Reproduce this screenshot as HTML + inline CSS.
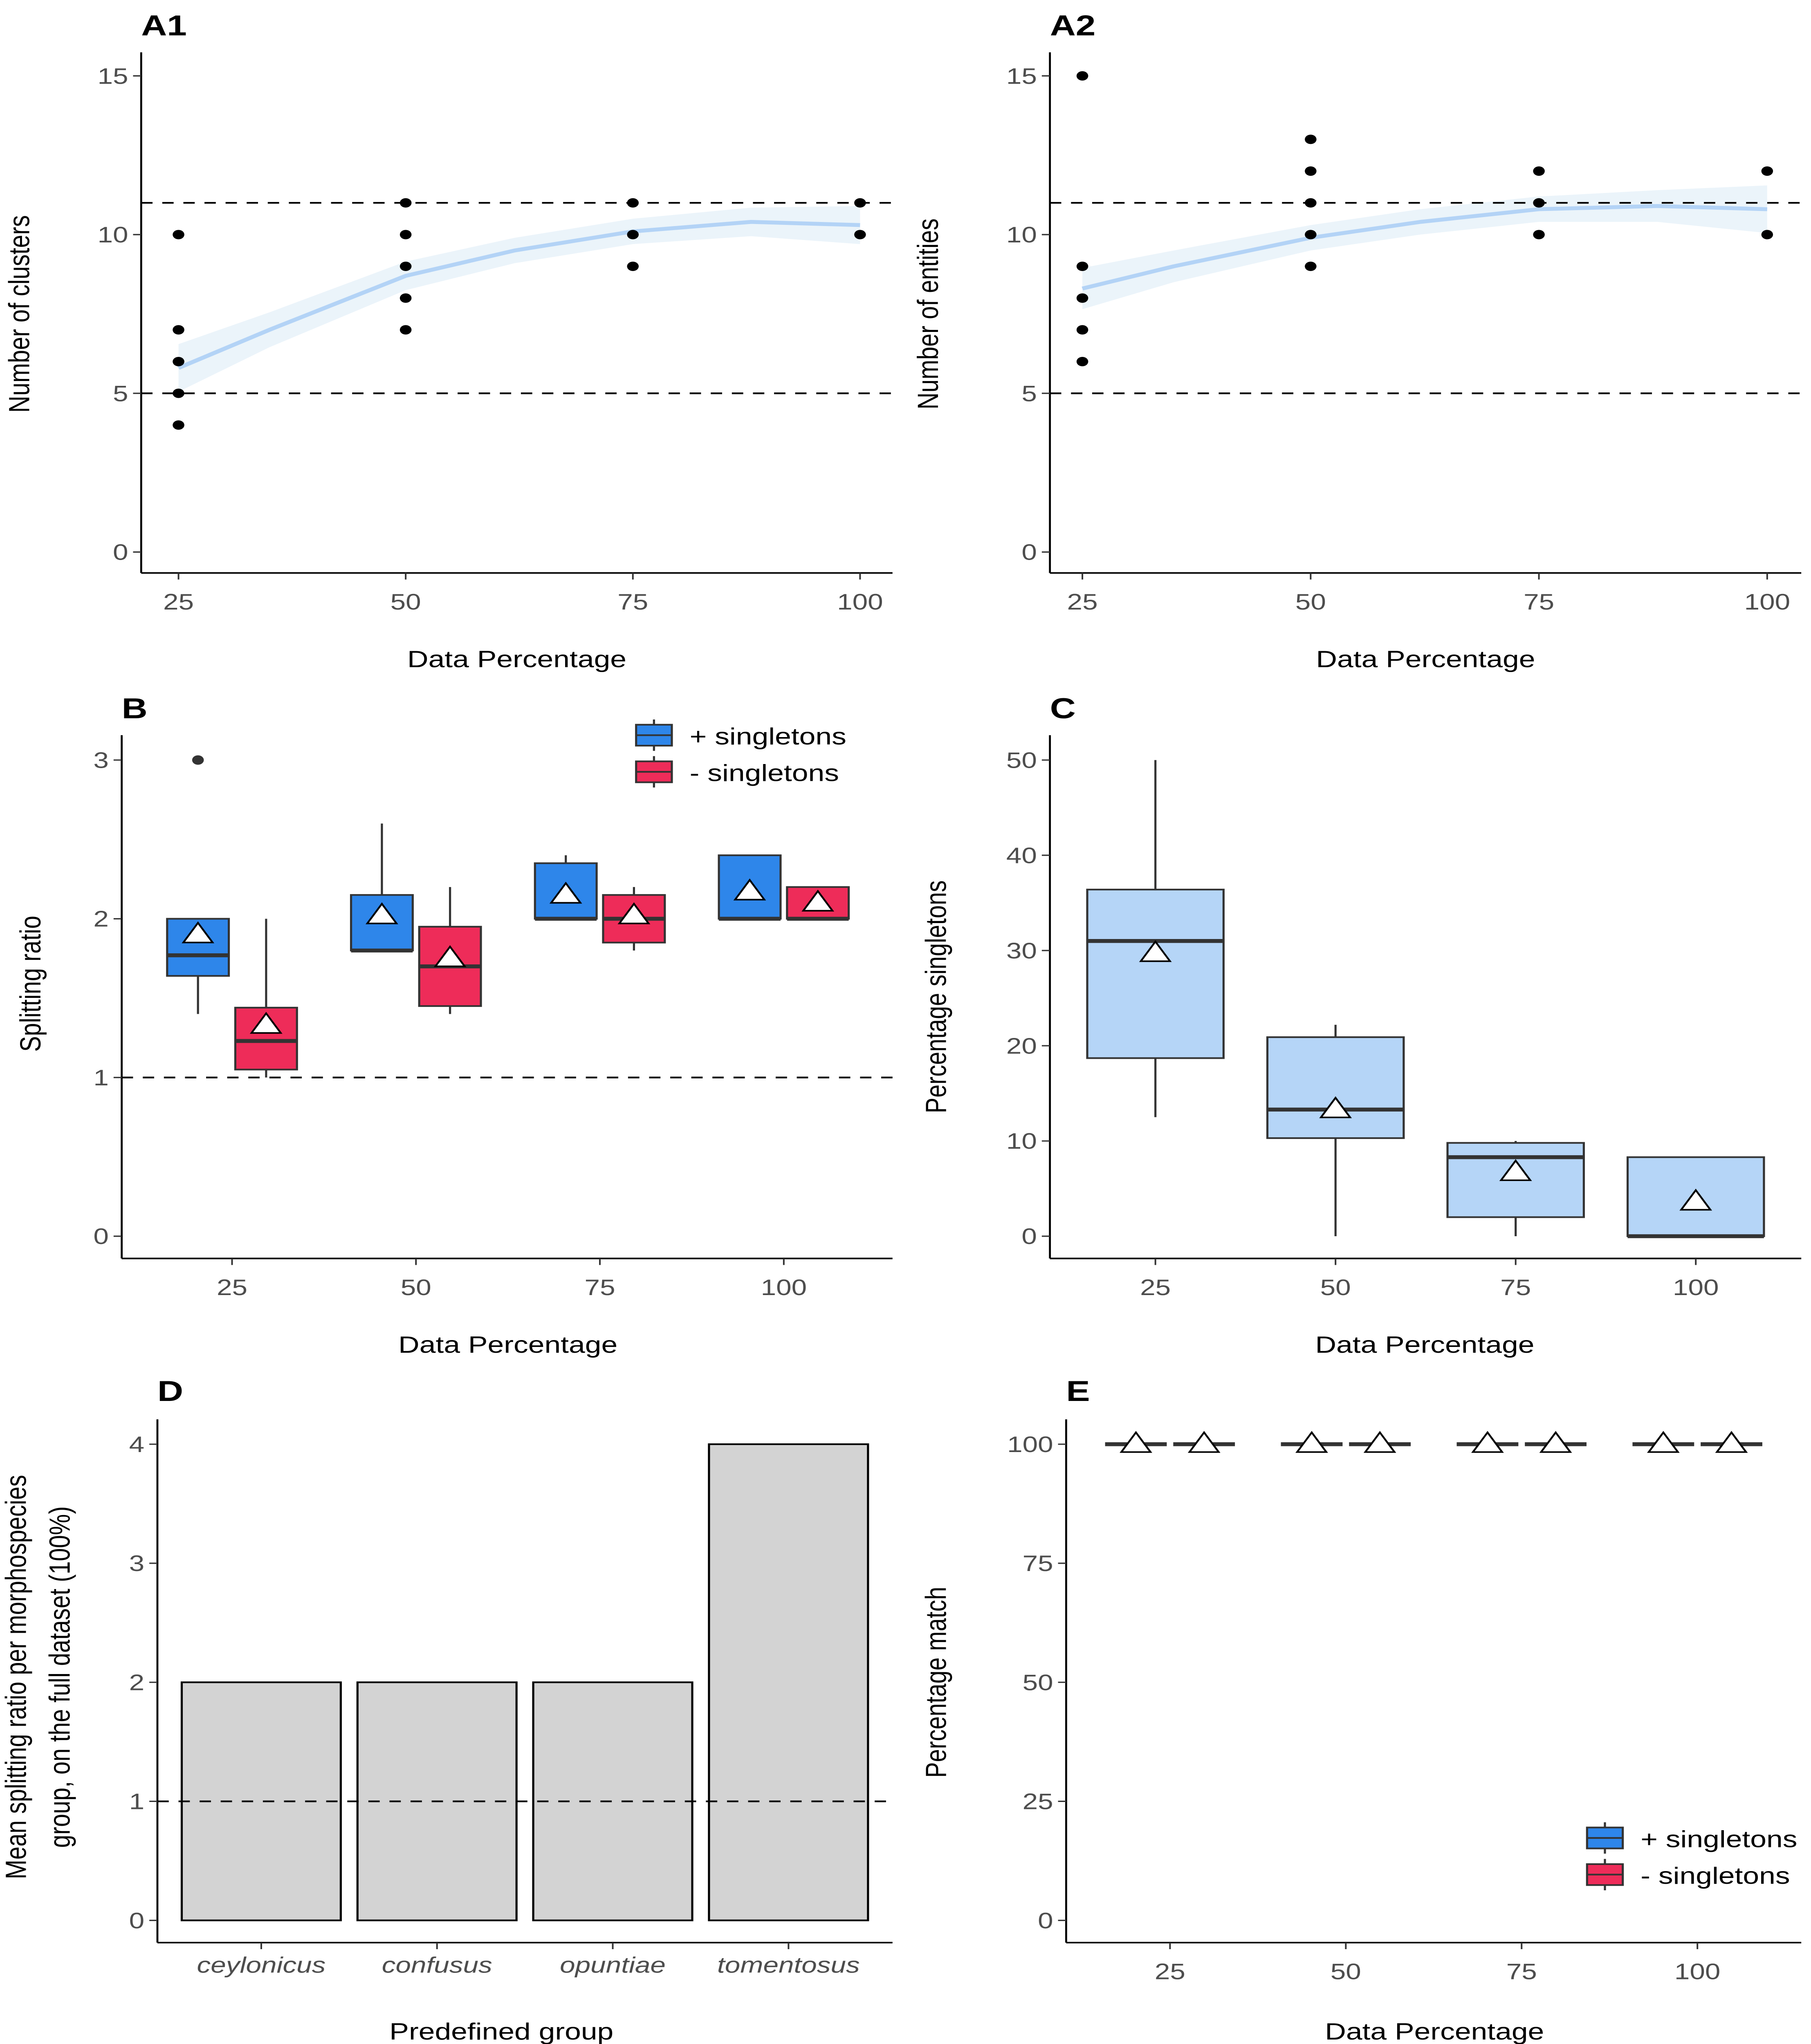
<!DOCTYPE html>
<html><head><meta charset="utf-8"><style>
html,body{margin:0;padding:0;background:#fff;width:100%;height:100%;overflow:hidden}
svg{display:block;position:fixed;left:0;top:0;width:100vw;height:100vh}
text{font-family:"Liberation Sans",sans-serif}
.tick{fill:#4d4d4d;font-size:17px}
.atitle{fill:#000;font-size:18px}
.ptitle{fill:#000;font-size:22px;font-weight:bold}
</style></head><body>
<svg id="s" viewBox="0 0 1116 1562.5" preserveAspectRatio="none" xmlns="http://www.w3.org/2000/svg"></svg>
<script>
// ---- data ----
const a1X = [25,25,25,25,25,50,50,50,50,50,75,75,75,100,100];
const a1Y = [10,7,6,5,4,11,10,9,8,7,11,10,9,11,10];
const a1FitX = [25,35,50,62,75,88,100];
const a1FitY = [5.8,7.0,8.7,9.5,10.1,10.4,10.3];
const a1FitSE = [0.75,0.55,0.45,0.4,0.4,0.45,0.6];
const a2X = [25,25,25,25,25,50,50,50,50,50,75,75,75,100,100];
const a2Y = [15,9,8,7,6,13,12,11,10,9,12,11,10,12,10];
const a2FitX = [25,35,50,62,75,88,100];
const a2FitY = [8.3,9.0,9.9,10.4,10.8,10.9,10.8];
const a2FitSE = [0.65,0.5,0.4,0.4,0.4,0.5,0.75];
const pctCats = [25,50,75,100];
const bPlusStats = [[1.4,1.64,1.77,2.0,2.0],[1.8,1.8,1.8,2.15,2.6],[2.0,2.0,2.0,2.35,2.4],[2.0,2.0,2.0,2.4,2.4]];
const bPlusMeans = [1.9,2.02,2.15,2.17];
const bMinusStats = [[1.0,1.05,1.23,1.44,2.0],[1.4,1.45,1.7,1.95,2.2],[1.8,1.85,2.0,2.15,2.2],[2.0,2.0,2.0,2.2,2.2]];
const bMinusMeans = [1.33,1.75,2.02,2.1];
const bOutliers = [[0,3]];
const cStats = [[12.5,18.7,31,36.4,50],[0,10.3,13.3,20.9,22.2],[0,2,8.3,9.8,10],[0,0,0,8.3,8.3]];
const cMeans = [29.7,13.3,6.7,3.6];
const dCats = ["ceylonicus","confusus","opuntiae","tomentosus"];
const dVals = [2,2,2,4];
const ePlus = [100,100,100,100];
const eMinus = [100,100,100,100];
const BLUE="#2e86ea", RED="#ee2c59";
// ---- helpers ----
const S=document.getElementById('s'), NS="http://www.w3.org/2000/svg";
function el(tag,at,name,parent){const e=document.createElementNS(NS,tag);for(const k in at)e.setAttribute(k,at[k]);


(parent||S).appendChild(e);return e;}
function txt(x,y,s,cls,name,extra){const t=el('text',Object.assign({x:x,y:y,class:cls},extra||{}),name);t.textContent=s;return t;}
function lin(d0,d1,r0,r1){return v=>r0+(v-d0)*(r1-r0)/(d1-d0);}
function axes(p){
 el('line',{x1:p.l,y1:p.t,x2:p.l,y2:p.b,stroke:'#000','stroke-width':1.2},'y-axis-line');
 el('line',{x1:p.l,y1:p.b,x2:p.r,y2:p.b,stroke:'#000','stroke-width':1.2},'x-axis-line');
}
function yTicks(p,ys,vals){vals.forEach(v=>{const y=ys(v);
 el('line',{x1:p.l-5,y1:y,x2:p.l,y2:y,stroke:'#333'},'y-tick');
 txt(p.l-8,y+6,String(v),'tick','y-tick-label',{'text-anchor':'end'});});}
function xTicks(p,xs,vals,labels,italic){vals.forEach((v,i)=>{const x=xs(v);
 el('line',{x1:x,y1:p.b,x2:x,y2:p.b+5,stroke:'#333'},'x-tick');
 const t=txt(x,p.b+28,labels?labels[i]:String(v),'tick','x-tick-label',{'text-anchor':'middle'});
 if(italic)t.setAttribute('font-style','italic');});}
function hdash(p,y){el('line',{x1:p.l,y1:y,x2:p.r,y2:y,stroke:'#000','stroke-width':1.3,'stroke-dasharray':'7,6'},'reference-line');}
function ytitle(x,y,s){txt(x,y,s,'atitle','y-axis-title',{'text-anchor':'middle',transform:`rotate(-90 ${x} ${y})`});}
function tri(x,y,name){el('polygon',{points:`${x},${y-9} ${x-9},${y+6} ${x+9},${y+6}`,fill:'#fff',stroke:'#000','stroke-width':1.2},name||'mean-marker');}
function box(x,w,st,ys,fill,name){
 el('line',{x1:x,y1:ys(st[0]),x2:x,y2:ys(st[1]),stroke:'#333','stroke-width':1.3},name+'-whisker');
 el('line',{x1:x,y1:ys(st[3]),x2:x,y2:ys(st[4]),stroke:'#333','stroke-width':1.3},name+'-whisker');
 el('rect',{x:x-w/2,y:ys(st[3]),width:w,height:Math.max(ys(st[1])-ys(st[3]),0.5),fill:fill,stroke:'#333','stroke-width':1.3},name);
 el('line',{x1:x-w/2,y1:ys(st[2]),x2:x+w/2,y2:ys(st[2]),stroke:'#333','stroke-width':3},name+'-median');
}
function scatterPanel(p,X,Y,FX,FY,SE,title,ytl){
 const xs=lin(25,100,p.x0,p.x1), ys=lin(0,15,p.b-16,p.b-380);
 let up=FX.map((v,i)=>`${xs(v)},${ys(FY[i]+SE[i])}`), dn=FX.map((v,i)=>`${xs(v)},${ys(FY[i]-SE[i])}`).reverse();
 el('polygon',{points:up.concat(dn).join(' '),fill:'#ebf4fa'},'confidence-band');
 el('polyline',{points:FX.map((v,i)=>`${xs(v)},${ys(FY[i])}`).join(' '),fill:'none',stroke:'#b3d3f6','stroke-width':3,'stroke-linejoin':'round'},'smooth-fit-line');
 hdash(p,ys(11));hdash(p,ys(5));
 X.forEach((v,i)=>el('circle',{cx:xs(v),cy:ys(Y[i]),r:3.6,fill:'#000'},'data-point'));
 axes(p);yTicks(p,ys,[0,5,10,15]);xTicks(p,xs,[25,50,75,100]);
 txt(p.l,27,title,'ptitle','panel-title');
 txt((p.l+p.r)/2,p.b+72,'Data Percentage','atitle','x-axis-title',{'text-anchor':'middle'});
 ytitle(p.l-69,240,ytl);
}
scatterPanel({l:87,r:550,t:40,b:438,x0:110,x1:530},a1X,a1Y,a1FitX,a1FitY,a1FitSE,'A1','Number of clusters');
scatterPanel({l:647,r:1110,t:40,b:438,x0:667,x1:1089},a2X,a2Y,a2FitX,a2FitY,a2FitSE,'A2','Number of entities');
// ---- B ----
(function(){const p={l:75,r:550,t:562,b:962};
 const xs=lin(25,100,143,483), ys=lin(0,3,945,581);
 hdash(p,ys(1));
 pctCats.forEach((c,i)=>{box(xs(c)-21,38,bPlusStats[i],ys,BLUE,'box-plus-singletons-'+c);box(xs(c)+21,38,bMinusStats[i],ys,RED,'box-minus-singletons-'+c);
  tri(xs(c)-21,ys(bPlusMeans[i]));tri(xs(c)+21,ys(bMinusMeans[i]));});
 bOutliers.forEach(o=>el('circle',{cx:xs(pctCats[o[0]])-21,cy:ys(o[1]),r:3.6,fill:'#333'},'outlier-point'));
 axes(p);yTicks(p,ys,[0,1,2,3]);xTicks(p,xs,pctCats);
 txt(p.l,549,'B','ptitle','panel-title');
 txt(313,1034,'Data Percentage','atitle','x-axis-title',{'text-anchor':'middle'});
 ytitle(25,752,'Splitting ratio');
 [[BLUE,'+ singletons',562],[RED,'- singletons',590]].forEach(l=>{
  el('line',{x1:403,y1:l[2]-12,x2:403,y2:l[2]+12,stroke:'#333','stroke-width':1.3},'legend-whisker');
  el('rect',{x:392,y:l[2]-8,width:22,height:16,fill:l[0],stroke:'#333','stroke-width':1.3},'legend-key');
  el('line',{x1:392,y1:l[2],x2:414,y2:l[2],stroke:'#333','stroke-width':1.3},'legend-median');
  txt(425,l[2]+7,l[1],'atitle','legend-label');});
})();
// ---- C ----
(function(){const p={l:647,r:1110,t:562,b:962};
 const xs=lin(25,100,712,1045), ys=lin(0,50,945,581);
 pctCats.forEach((c,i)=>{box(xs(c),84,cStats[i],ys,'#b5d5f7','box-'+c);tri(xs(c),ys(cMeans[i]));});
 axes(p);yTicks(p,ys,[0,10,20,30,40,50]);xTicks(p,xs,pctCats);
 txt(p.l,549,'C','ptitle','panel-title');
 txt(878,1034,'Data Percentage','atitle','x-axis-title',{'text-anchor':'middle'});
 ytitle(583,762,'Percentage singletons');
})();
// ---- D ----
(function(){const p={l:97,r:550,t:1085,b:1485};
 const xs=i=>161+i*108.3, ys=lin(0,4,1468,1104);
 dVals.forEach((v,i)=>el('rect',{x:xs(i)-49,y:ys(v),width:98,height:ys(0)-ys(v),fill:'#d3d3d3',stroke:'#000','stroke-width':1.3},'bar-'+dCats[i]));
 hdash(p,ys(1));
 axes(p);yTicks(p,ys,[0,1,2,3,4]);
 dCats.forEach((c,i)=>{el('line',{x1:xs(i),y1:p.b,x2:xs(i),y2:p.b+5,stroke:'#333'},'x-tick');
  txt(xs(i),p.b+23,c,'tick','x-tick-label',{'text-anchor':'middle','font-style':'italic'});});
 txt(p.l,1071,'D','ptitle','panel-title');
 txt(309,1559,'Predefined group','atitle','x-axis-title',{'text-anchor':'middle'});
 ytitle(16,1282,'Mean splitting ratio per morphospecies');ytitle(43,1282,'group, on the full dataset (100%)');
})();
// ---- E ----
(function(){const p={l:657,r:1110,t:1085,b:1485};
 const xs=lin(25,100,721,1046), ys=lin(0,100,1468,1104);
 pctCats.forEach((c,i)=>{[[ -21,ePlus[i],BLUE],[21,eMinus[i],RED]].forEach(b=>{
  el('line',{x1:xs(c)+b[0]-19,y1:ys(b[1]),x2:xs(c)+b[0]+19,y2:ys(b[1]),stroke:'#333','stroke-width':3},'box-collapsed-'+c);
  tri(xs(c)+b[0],ys(b[1]));});});
 axes(p);yTicks(p,ys,[0,25,50,75,100]);xTicks(p,xs,pctCats);
 txt(p.l,1071,'E','ptitle','panel-title');
 txt(884,1559,'Data Percentage','atitle','x-axis-title',{'text-anchor':'middle'});
 ytitle(583,1286,'Percentage match');
 [[BLUE,'+ singletons',1405],[RED,'- singletons',1433]].forEach(l=>{
  el('line',{x1:989,y1:l[2]-12,x2:989,y2:l[2]+12,stroke:'#333','stroke-width':1.3},'legend-whisker');
  el('rect',{x:978,y:l[2]-8,width:22,height:16,fill:l[0],stroke:'#333','stroke-width':1.3},'legend-key');
  el('line',{x1:978,y1:l[2],x2:1000,y2:l[2],stroke:'#333','stroke-width':1.3},'legend-median');
  txt(1011,l[2]+7,l[1],'atitle','legend-label');});
})();
</script>
</body></html>
